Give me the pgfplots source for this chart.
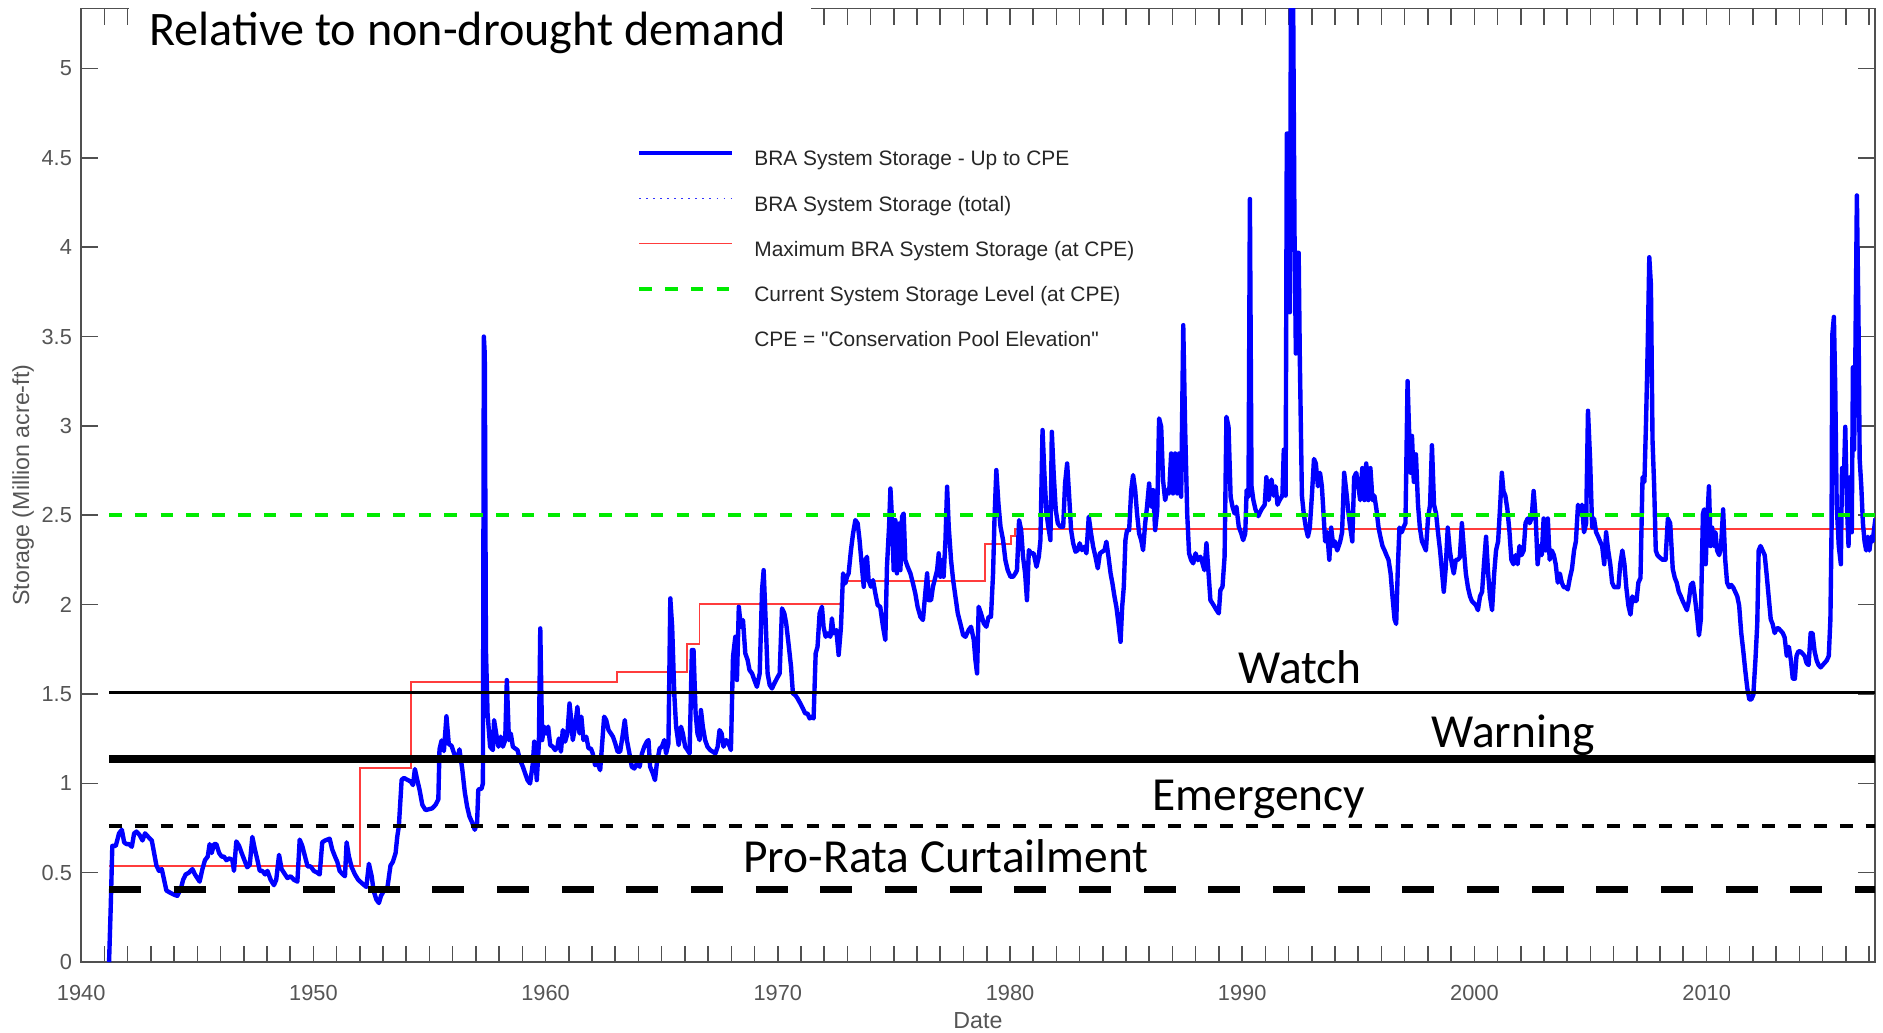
\documentclass[border=0pt]{standalone}
\usepackage{fontspec}
\setmainfont{Liberation Sans}
\newfontfamily\legendfont{Liberation Sans}
\newfontfamily\calibri{Carlito}
\usepackage{pgfplots}
\pgfplotsset{compat=1.18}
\usepackage{pgfplotstable}
\definecolor{bluedata}{RGB}{0,0,255}
\definecolor{redmax}{RGB}{255,60,60}
\definecolor{greencur}{RGB}{0,235,0}
\definecolor{axgray}{RGB}{80,80,80}
\definecolor{tickgray}{RGB}{85,85,85}

\pgfplotstableread{
yr v
1941.20 0
1941.27 0.30
1941.34 0.65
1941.49 0.65
1941.63 0.72
1941.75 0.74
1941.85 0.67
1941.95 0.66
1942.06 0.66
1942.18 0.645
1942.28 0.72
1942.38 0.73
1942.52 0.71
1942.64 0.68
1942.75 0.72
1942.89 0.70
1943.04 0.68
1943.14 0.61
1943.24 0.54
1943.35 0.51
1943.47 0.52
1943.57 0.46
1943.67 0.40
1943.86 0.386
1944.00 0.377
1944.14 0.37
1944.29 0.41
1944.39 0.46
1944.50 0.49
1944.64 0.50
1944.79 0.52
1944.90 0.49
1945.00 0.47
1945.10 0.45
1945.22 0.52
1945.33 0.57
1945.45 0.59
1945.53 0.66
1945.62 0.61
1945.72 0.66
1945.82 0.66
1945.94 0.61
1946.05 0.59
1946.15 0.59
1946.25 0.57
1946.39 0.58
1946.51 0.57
1946.58 0.51
1946.68 0.675
1946.80 0.65
1946.91 0.61
1947.03 0.57
1947.15 0.53
1947.26 0.545
1947.37 0.70
1947.48 0.63
1947.59 0.57
1947.69 0.51
1947.80 0.51
1947.92 0.49
1948.02 0.51
1948.16 0.46
1948.30 0.43
1948.40 0.46
1948.52 0.60
1948.63 0.52
1948.73 0.50
1948.88 0.47
1949.02 0.48
1949.16 0.46
1949.31 0.45
1949.41 0.685
1949.52 0.65
1949.64 0.59
1949.75 0.535
1949.88 0.535
1950.02 0.51
1950.17 0.50
1950.27 0.49
1950.38 0.67
1950.50 0.68
1950.60 0.685
1950.70 0.69
1950.81 0.63
1950.93 0.59
1951.03 0.56
1951.13 0.51
1951.27 0.49
1951.36 0.48
1951.43 0.67
1951.53 0.59
1951.65 0.53
1951.79 0.49
1951.93 0.46
1952.10 0.44
1952.28 0.42
1952.39 0.55
1952.51 0.48
1952.59 0.40
1952.71 0.35
1952.82 0.33
1952.91 0.37
1953.04 0.40
1953.18 0.41
1953.32 0.54
1953.42 0.56
1953.54 0.61
1953.61 0.70
1953.68 0.76
1953.80 1.02
1953.90 1.03
1954.04 1.02
1954.19 1.01
1954.29 0.99
1954.37 1.08
1954.47 1.02
1954.57 0.965
1954.69 0.88
1954.83 0.85
1954.97 0.855
1955.12 0.86
1955.26 0.88
1955.38 0.91
1955.43 1.19
1955.52 1.24
1955.62 1.18
1955.73 1.375
1955.83 1.22
1955.95 1.21
1956.05 1.17
1956.19 1.13
1956.29 1.19
1956.41 1.08
1956.52 0.95
1956.62 0.87
1956.72 0.815
1956.84 0.78
1956.95 0.74
1957.05 0.78
1957.10 0.965
1957.24 0.97
1957.30 1.00
1957.34 3.50
1957.38 3.40
1957.43 1.75
1957.50 1.39
1957.61 1.205
1957.73 1.186
1957.78 1.354
1957.87 1.279
1957.97 1.205
1958.07 1.261
1958.16 1.205
1958.26 1.242
1958.33 1.578
1958.42 1.242
1958.50 1.279
1958.59 1.205
1958.69 1.195
1958.79 1.186
1958.90 1.130
1959.02 1.093
1959.12 1.055
1959.22 1.018
1959.33 0.999
1959.45 1.111
1959.51 1.233
1959.62 1.018
1959.71 1.223
1959.77 1.867
1959.85 1.242
1959.94 1.317
1960.02 1.279
1960.11 1.317
1960.20 1.214
1960.31 1.205
1960.41 1.186
1960.51 1.205
1960.57 1.251
1960.66 1.177
1960.74 1.298
1960.84 1.233
1960.94 1.279
1961.03 1.447
1961.09 1.373
1961.17 1.242
1961.27 1.317
1961.37 1.428
1961.46 1.279
1961.54 1.373
1961.63 1.242
1961.75 1.261
1961.85 1.195
1961.95 1.195
1962.03 1.167
1962.13 1.102
1962.24 1.111
1962.35 1.074
1962.42 1.195
1962.52 1.373
1962.61 1.354
1962.71 1.298
1962.81 1.279
1962.90 1.261
1963.00 1.223
1963.10 1.177
1963.21 1.177
1963.33 1.279
1963.41 1.354
1963.50 1.242
1963.61 1.167
1963.71 1.093
1963.82 1.083
1963.93 1.111
1964.05 1.093
1964.15 1.167
1964.25 1.205
1964.36 1.233
1964.43 1.242
1964.50 1.093
1964.62 1.055
1964.71 1.018
1964.79 1.111
1964.91 1.195
1965.01 1.205
1965.11 1.242
1965.19 1.167
1965.29 1.223
1965.37 2.035
1965.45 1.876
1965.54 1.503
1965.62 1.317
1965.73 1.214
1965.83 1.317
1965.91 1.279
1966.01 1.205
1966.11 1.186
1966.20 1.167
1966.30 1.746
1966.37 1.746
1966.46 1.391
1966.54 1.279
1966.63 1.242
1966.69 1.410
1966.77 1.317
1966.87 1.242
1966.97 1.205
1967.09 1.186
1967.20 1.177
1967.31 1.167
1967.41 1.205
1967.49 1.298
1967.58 1.279
1967.66 1.205
1967.78 1.242
1967.88 1.223
1967.98 1.186
1968.07 1.708
1968.17 1.820
1968.24 1.578
1968.32 1.988
1968.41 1.876
1968.50 1.914
1968.60 1.727
1968.70 1.690
1968.78 1.634
1968.89 1.615
1968.99 1.578
1969.10 1.540
1969.22 1.615
1969.32 2.081
1969.39 2.193
1969.47 1.932
1969.56 1.615
1969.65 1.550
1969.75 1.531
1969.85 1.559
1969.96 1.587
1970.08 1.615
1970.18 1.979
1970.28 1.951
1970.36 1.895
1970.46 1.783
1970.57 1.652
1970.65 1.503
1970.75 1.494
1970.85 1.475
1970.97 1.447
1971.08 1.419
1971.18 1.391
1971.28 1.391
1971.37 1.363
1971.47 1.373
1971.54 1.363
1971.63 1.727
1971.71 1.764
1971.80 1.951
1971.90 1.988
1971.97 1.876
1972.06 1.820
1972.15 1.839
1972.26 1.820
1972.33 1.923
1972.40 1.839
1972.52 1.858
1972.62 1.718
1972.72 1.876
1972.81 2.175
1972.91 2.119
1972.98 2.156
1973.05 2.175
1973.15 2.305
1973.24 2.398
1973.34 2.473
1973.44 2.454
1973.52 2.361
1973.62 2.212
1973.70 2.100
1973.77 2.249
1973.84 2.268
1973.91 2.137
1974.01 2.100
1974.10 2.137
1974.20 2.063
1974.30 1.997
1974.41 1.988
1974.53 1.876
1974.63 1.802
1974.70 2.212
1974.79 2.436
1974.85 2.650
1974.92 2.473
1974.99 2.193
1975.06 2.473
1975.13 2.175
1975.22 2.454
1975.28 2.193
1975.35 2.492
1975.42 2.510
1975.49 2.249
1975.59 2.212
1975.71 2.175
1975.82 2.119
1975.92 2.063
1976.02 1.988
1976.14 1.932
1976.25 1.914
1976.35 2.063
1976.43 2.175
1976.50 2.025
1976.60 2.025
1976.68 2.100
1976.79 2.156
1976.86 2.193
1976.93 2.287
1977.00 2.156
1977.07 2.249
1977.14 2.156
1977.22 2.361
1977.29 2.660
1977.36 2.436
1977.46 2.249
1977.55 2.137
1977.65 2.044
1977.75 1.951
1977.86 1.895
1977.98 1.830
1978.08 1.820
1978.22 1.858
1978.32 1.876
1978.44 1.802
1978.51 1.690
1978.58 1.615
1978.65 1.988
1978.75 1.951
1978.87 1.895
1978.98 1.876
1979.08 1.932
1979.18 1.932
1979.27 2.175
1979.33 2.473
1979.41 2.753
1979.50 2.566
1979.59 2.436
1979.70 2.361
1979.80 2.249
1979.90 2.193
1980.02 2.156
1980.13 2.156
1980.23 2.175
1980.30 2.193
1980.39 2.473
1980.48 2.417
1980.56 2.268
1980.65 2.175
1980.73 2.025
1980.81 2.305
1980.91 2.287
1981.02 2.287
1981.14 2.212
1981.24 2.268
1981.31 2.361
1981.40 2.977
1981.48 2.734
1981.57 2.510
1981.65 2.436
1981.74 2.361
1981.80 2.967
1981.88 2.734
1981.97 2.529
1982.06 2.454
1982.17 2.436
1982.29 2.436
1982.37 2.678
1982.46 2.790
1982.54 2.622
1982.63 2.417
1982.72 2.343
1982.82 2.296
1982.92 2.305
1983.00 2.343
1983.10 2.305
1983.20 2.324
1983.29 2.287
1983.39 2.492
1983.49 2.398
1983.58 2.324
1983.68 2.268
1983.78 2.203
1983.87 2.287
1983.97 2.296
1984.07 2.305
1984.15 2.352
1984.24 2.268
1984.33 2.175
1984.41 2.119
1984.50 2.044
1984.58 1.988
1984.67 1.895
1984.76 1.792
1984.83 1.988
1984.90 2.100
1984.97 2.361
1985.04 2.417
1985.13 2.417
1985.22 2.641
1985.30 2.725
1985.39 2.641
1985.47 2.510
1985.56 2.398
1985.65 2.361
1985.73 2.305
1985.82 2.454
1985.90 2.548
1985.99 2.678
1986.08 2.548
1986.16 2.641
1986.25 2.417
1986.34 2.529
1986.42 3.042
1986.51 2.995
1986.59 2.697
1986.68 2.585
1986.77 2.641
1986.85 2.622
1986.94 2.846
1987.02 2.622
1987.11 2.846
1987.20 2.622
1987.28 2.846
1987.37 2.604
1987.46 3.564
1987.54 2.995
1987.63 2.510
1987.71 2.287
1987.80 2.249
1987.89 2.231
1987.99 2.287
1988.09 2.249
1988.20 2.268
1988.29 2.231
1988.37 2.193
1988.46 2.343
1988.55 2.175
1988.63 2.025
1988.72 2.007
1988.81 1.988
1988.89 1.970
1988.99 1.951
1989.06 2.081
1989.15 2.100
1989.24 2.268
1989.32 3.051
1989.41 2.995
1989.50 2.604
1989.58 2.548
1989.67 2.510
1989.75 2.548
1989.85 2.436
1989.96 2.398
1990.04 2.361
1990.13 2.398
1990.19 2.641
1990.27 2.604
1990.33 4.27
1990.40 2.662
1990.48 2.585
1990.57 2.533
1990.69 2.495
1990.83 2.533
1990.97 2.559
1991.04 2.713
1991.14 2.585
1991.26 2.700
1991.35 2.610
1991.44 2.662
1991.52 2.559
1991.61 2.585
1991.73 2.610
1991.79 2.867
1991.87 2.610
1991.92 4.636
1992.01 4.636
1992.05 3.636
1992.10 5.45
1992.19 5.45
1992.25 4.097
1992.31 3.405
1992.36 3.969
1992.43 3.969
1992.48 3.380
1992.57 2.610
1992.65 2.508
1992.74 2.431
1992.83 2.380
1992.91 2.431
1993.00 2.610
1993.09 2.815
1993.17 2.790
1993.26 2.662
1993.35 2.738
1993.43 2.662
1993.49 2.533
1993.57 2.354
1993.66 2.405
1993.75 2.251
1993.83 2.431
1993.92 2.328
1993.99 2.354
1994.09 2.303
1994.22 2.354
1994.30 2.405
1994.39 2.738
1994.48 2.636
1994.56 2.533
1994.65 2.431
1994.74 2.354
1994.82 2.713
1994.91 2.738
1995.00 2.662
1995.08 2.585
1995.17 2.764
1995.26 2.585
1995.34 2.790
1995.43 2.585
1995.52 2.764
1995.61 2.585
1995.69 2.610
1995.78 2.533
1995.87 2.431
1995.95 2.380
1996.04 2.328
1996.13 2.303
1996.21 2.277
1996.30 2.251
1996.39 2.174
1996.47 2.046
1996.56 1.918
1996.63 1.892
1996.70 2.200
1996.77 2.431
1996.87 2.405
1996.94 2.431
1997.03 2.456
1997.12 3.251
1997.18 2.995
1997.25 2.738
1997.31 2.944
1997.39 2.687
1997.48 2.841
1997.57 2.559
1997.65 2.431
1997.74 2.354
1997.83 2.328
1997.91 2.303
1998.00 2.482
1998.09 2.559
1998.17 2.892
1998.26 2.559
1998.35 2.508
1998.43 2.405
1998.52 2.303
1998.61 2.174
1998.68 2.072
1998.76 2.200
1998.85 2.431
1998.94 2.303
1999.03 2.226
1999.11 2.174
1999.20 2.251
1999.29 2.251
1999.37 2.264
1999.46 2.456
1999.55 2.303
1999.63 2.174
1999.72 2.097
1999.81 2.046
1999.89 2.020
1999.98 2.008
2000.07 1.995
2000.15 1.969
2000.24 2.046
2000.33 2.072
2000.41 2.226
2000.50 2.380
2000.59 2.174
2000.67 2.046
2000.76 1.969
2000.85 2.174
2000.93 2.303
2001.02 2.354
2001.11 2.559
2001.18 2.738
2001.25 2.636
2001.33 2.610
2001.42 2.533
2001.51 2.405
2001.59 2.251
2001.68 2.226
2001.77 2.277
2001.86 2.226
2001.94 2.328
2002.03 2.277
2002.12 2.303
2002.20 2.456
2002.29 2.482
2002.38 2.456
2002.46 2.482
2002.55 2.636
2002.64 2.482
2002.72 2.226
2002.81 2.328
2002.90 2.277
2002.98 2.482
2003.07 2.303
2003.16 2.482
2003.24 2.251
2003.33 2.303
2003.42 2.277
2003.50 2.226
2003.59 2.123
2003.68 2.174
2003.76 2.123
2003.85 2.097
2003.94 2.097
2004.02 2.085
2004.11 2.149
2004.20 2.200
2004.29 2.303
2004.37 2.354
2004.46 2.559
2004.55 2.508
2004.63 2.559
2004.72 2.405
2004.81 2.456
2004.89 3.085
2004.98 2.815
2005.07 2.431
2005.15 2.482
2005.24 2.405
2005.33 2.380
2005.41 2.354
2005.50 2.328
2005.59 2.226
2005.67 2.405
2005.76 2.303
2005.85 2.226
2005.93 2.123
2006.02 2.097
2006.11 2.097
2006.20 2.097
2006.28 2.226
2006.37 2.303
2006.46 2.226
2006.54 2.097
2006.63 1.995
2006.72 1.944
2006.80 2.046
2006.89 2.020
2006.98 2.020
2007.06 2.123
2007.15 2.149
2007.24 2.713
2007.32 2.687
2007.39 3.021
2007.46 3.431
2007.53 3.944
2007.60 3.790
2007.67 2.918
2007.74 2.662
2007.81 2.303
2007.88 2.277
2007.98 2.264
2008.10 2.251
2008.23 2.251
2008.33 2.482
2008.43 2.456
2008.54 2.200
2008.63 2.149
2008.71 2.123
2008.80 2.072
2008.89 2.046
2008.97 2.020
2009.06 1.995
2009.15 1.969
2009.23 2.020
2009.32 2.110
2009.41 2.123
2009.49 2.046
2009.58 1.944
2009.67 1.828
2009.75 1.918
2009.84 2.508
2009.89 2.533
2009.96 2.226
2010.03 2.482
2010.10 2.662
2010.17 2.328
2010.24 2.431
2010.31 2.328
2010.38 2.405
2010.45 2.303
2010.54 2.277
2010.62 2.328
2010.71 2.533
2010.80 2.251
2010.88 2.123
2010.97 2.097
2011.06 2.110
2011.14 2.097
2011.23 2.072
2011.32 2.046
2011.40 1.995
2011.49 1.841
2011.58 1.738
2011.66 1.636
2011.75 1.533
2011.84 1.469
2011.92 1.469
2012.01 1.495
2012.10 1.687
2012.18 1.892
2012.24 2.303
2012.32 2.328
2012.41 2.303
2012.50 2.277
2012.58 2.174
2012.67 2.046
2012.76 1.918
2012.84 1.892
2012.93 1.841
2013.02 1.867
2013.10 1.867
2013.19 1.854
2013.28 1.841
2013.36 1.816
2013.45 1.713
2013.54 1.764
2013.63 1.687
2013.71 1.585
2013.80 1.585
2013.87 1.713
2013.95 1.738
2014.04 1.738
2014.13 1.726
2014.22 1.713
2014.30 1.674
2014.39 1.662
2014.48 1.841
2014.56 1.841
2014.65 1.738
2014.74 1.687
2014.82 1.662
2014.91 1.649
2015.00 1.662
2015.08 1.674
2015.17 1.687
2015.26 1.713
2015.33 1.918
2015.38 2.431
2015.41 3.508
2015.48 3.610
2015.54 3.200
2015.60 2.559
2015.69 2.328
2015.78 2.226
2015.83 2.764
2015.90 2.662
2015.97 2.995
2016.04 2.559
2016.11 2.328
2016.18 2.713
2016.25 2.405
2016.30 3.328
2016.35 2.867
2016.40 3.328
2016.47 4.290
2016.54 3.585
2016.59 2.815
2016.66 2.662
2016.73 2.456
2016.80 2.354
2016.87 2.303
2016.94 2.380
2017.01 2.303
2017.08 2.380
2017.15 2.354
2017.22 2.431
2017.27 2.482
}\storage

\begin{document}
\begin{tikzpicture}
\useasboundingbox (-0.812,-0.70) rectangle (18.018,9.62);
\begin{axis}[
  at={(0,0)}, anchor=south west,
  scale only axis, width=17.935cm, height=9.537cm,
  xmin=1940, xmax=2017.24, ymin=0, ymax=5.337,
  xtick={1940,1950,1960,1970,1980,1990,2000,2010},
  minor xtick={1941,1942,...,2017},
  ytick={0,0.5,1,1.5,2,2.5,3,3.5,4,4.5,5},
  /pgf/number format/1000 sep={},
  /pgf/number format/assume math mode=true,
  scaled ticks=false,
  major tick length=0.165cm, minor tick length=0.165cm,
  tick style={axgray, line width=0.45pt},
  axis line style={axgray, line width=0.45pt},
  ticklabel style={font=\fontsize{6.2}{7.4}\selectfont, text=tickgray},
  xticklabel style={anchor=north, inner sep=0pt, yshift=-0.225cm},
  yticklabel style={anchor=east, inner sep=0pt, xshift=-0.086cm},
  xlabel={Date},
  xlabel style={at={(axis description cs:0.5,-0.0700)}, anchor=base, font=\fontsize{6.6}{8}\selectfont, text=tickgray},
  ylabel={Storage (Million acre-ft)},
  ylabel style={at={(axis description cs:-0.0291,0.5)}, anchor=base, font=\fontsize{6.6}{8}\selectfont, text=tickgray},
  legend style={at={(rel axis cs:0.3095,0.8522)}, anchor=north west, draw=none, fill=none, inner sep=0pt,
    font=\legendfont\fontsize{5.95}{7}\selectfont, text=black!85, row sep=0.2525cm,
    nodes={inner sep=0pt, text height=0.16cm, text depth=0.04cm},
    /tikz/every odd column/.append style={column sep=0.2cm}},
  legend cell align=left,
  legend image code/.code={\draw[#1] (0cm,0.07cm) -- (0.93cm,0.07cm);},
]
\addlegendimage{bluedata, line width=1.25pt}
\addlegendentry{BRA System Storage - Up to CPE}
\addlegendimage{bluedata!80, line width=0.4pt, dash pattern=on 0.5pt off 1.5pt}
\addlegendentry{BRA System Storage (total)}
\addlegendimage{redmax, line width=0.55pt}
\addlegendentry{Maximum BRA System Storage (at CPE)}
\addlegendimage{greencur, line width=1.14pt, dash pattern=on 3.56pt off 3.78pt}
\addlegendentry{Current System Storage Level (at CPE)}
\addlegendimage{empty legend}
\addlegendentry{CPE = "Conservation Pool Elevation"}

\addplot[redmax, line width=0.5pt, const plot, forget plot] coordinates {
(1941.2,0.537) (1952.0,1.087) (1954.2,1.567) (1963.07,1.623) (1966.09,1.778)
(1966.63,2.002) (1972.77,2.134) (1978.91,2.339) (1980.05,2.386) (1980.2,2.423) (2017.5,2.423)};
\addplot[bluedata, line width=1.25pt, line join=round, forget plot] table[x=yr, y=v] {\storage};
\addplot[greencur, line width=1.14pt, dash pattern=on 3.56pt off 3.78pt, forget plot] coordinates {(1941.2,2.503) (2017.5,2.503)};
\addplot[black, line width=0.95pt, forget plot] coordinates {(1941.2,1.509) (2017.5,1.509)};
\addplot[black, line width=2.3pt, forget plot] coordinates {(1941.2,1.136) (2017.5,1.136)};
\addplot[black, line width=1.14pt, dash pattern=on 3.6pt off 3.75pt, forget plot] coordinates {(1941.2,0.763) (2017.5,0.763)};
\addplot[black, line width=2.1pt, dash pattern=on 9.1pt off 9.3pt, forget plot] coordinates {(1941.2,0.407) (2017.5,0.407)};
\end{axis}
\fill[white] (0.482,9.04) rectangle (7.30,9.75);
\node[anchor=base west, inner sep=0pt, font=\calibri\fontsize{13.7}{16}\selectfont] at (0.675,9.163) {Relative to non-drought demand};
\node[anchor=base, inner sep=0pt, font=\calibri\fontsize{13.5}{16}\selectfont] at (12.188,2.79) {Watch};
\node[anchor=base, inner sep=0pt, font=\calibri\fontsize{13.5}{16}\selectfont] at (14.318,2.15) {Warning};
\node[anchor=base, inner sep=0pt, font=\calibri\fontsize{13.5}{16}\selectfont] at (11.778,1.516) {Emergency};
\node[anchor=base, inner sep=0pt, font=\calibri\fontsize{13.5}{16}\selectfont] at (8.648,0.893) {Pro-Rata Curtailment};
\end{tikzpicture}
\end{document}
